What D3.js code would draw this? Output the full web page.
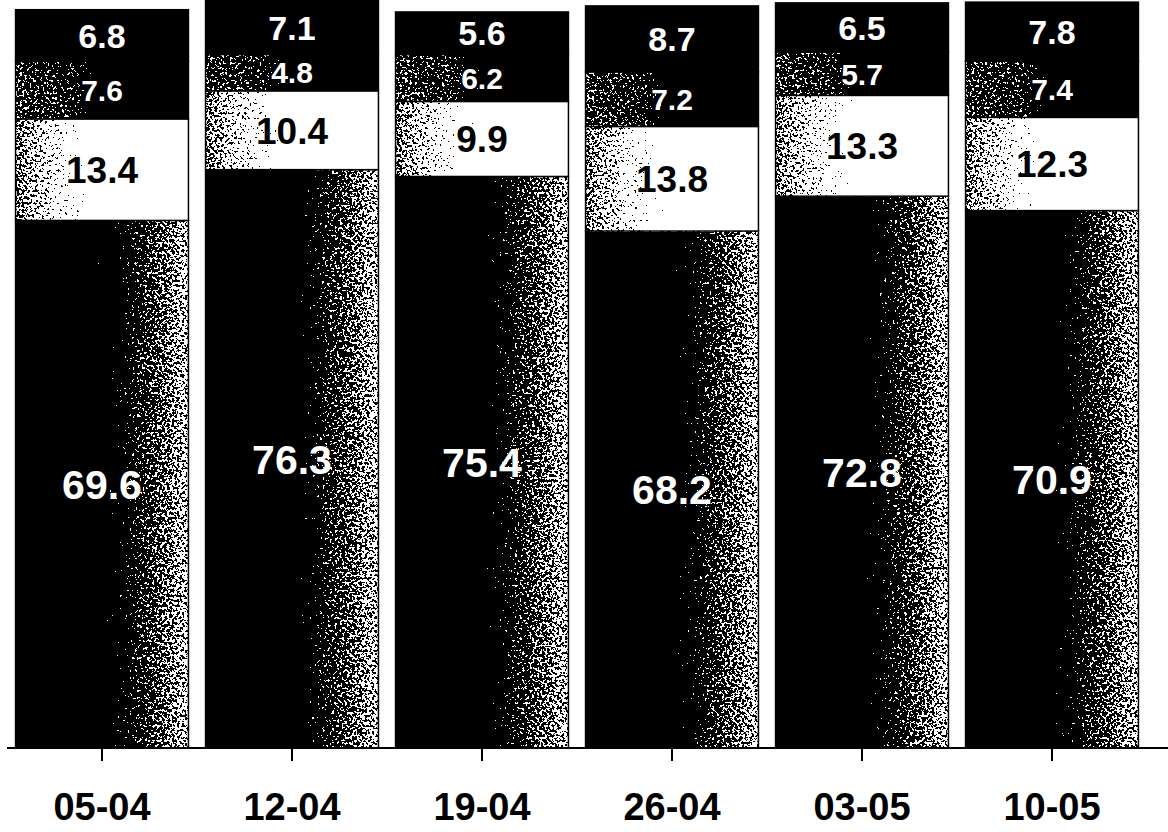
<!DOCTYPE html>
<html>
<head>
<meta charset="utf-8">
<script src="https://cdn.jsdelivr.net/npm/d3@7"></script>
<style>
  html, body { margin: 0; padding: 0; background: #fff; }
  svg { display: block; }
  text { font-family: "Liberation Sans", Arial, Helvetica, sans-serif; font-weight: bold; }
</style>
</head>
<body>
<svg id="chart" width="1168" height="832"></svg>
<script>
// ---- data ----
const categories = ["05-04", "12-04", "19-04", "26-04", "03-05", "10-05"];
const seriesBottom = [69.6, 76.3, 75.4, 68.2, 72.8, 70.9];
const seriesSecond = [13.4, 10.4, 9.9, 13.8, 13.3, 12.3];
const seriesThird  = [7.6, 4.8, 6.2, 7.2, 5.7, 7.4];
const seriesTop    = [6.8, 7.1, 5.6, 8.7, 6.5, 7.8];
const seriesKeys = ["bottom", "second", "third", "top"];

const table = categories.map((c, i) => ({
  cat: c,
  bottom: seriesBottom[i],
  second: seriesSecond[i],
  third: seriesThird[i],
  top: seriesTop[i]
}));

// ---- layout ----
const svg = d3.select("#chart");
const baseY = 748;
const x = d3.scaleBand().domain(categories).range([7, 1147]).paddingInner(0.09).paddingOuter(0.045);
const y = d3.scaleLinear().domain([0, 100]).range([baseY, -10]);

const stack = d3.stack().keys(seriesKeys);
const layers = stack(table);

// ---- defs: gradients + speckle filter ----
const defs = svg.append("defs");
function grad(id, stops) {
  const g = defs.append("linearGradient").attr("id", id)
    .attr("x1", "0").attr("x2", "1").attr("y1", "0").attr("y2", "0");
  stops.forEach(s => g.append("stop").attr("offset", s[0]).attr("stop-color", s[1]));
}
grad("g-bottom", [[0, "#000"], [0.36, "#000"], [0.72, "#5e5e5e"], [1, "#909090"]]);
grad("g-second", [[0, "#7a7a7a"], [0.35, "#bdbdbd"], [0.6, "#fff"], [1, "#fff"]]);
grad("g-third",  [[0, "#6a6a6a"], [0.35, "#5a5a5a"], [0.6, "#000"], [1, "#000"]]);
grad("g-top",    [[0, "#000"], [1, "#000"]]);

const f = defs.append("filter").attr("id", "speckle")
  .attr("x", "0").attr("y", "0").attr("width", "1").attr("height", "1")
  .attr("color-interpolation-filters", "sRGB");
f.append("feTurbulence").attr("type", "fractalNoise").attr("baseFrequency", "0.4")
  .attr("numOctaves", 2).attr("seed", 7).attr("result", "noise");
f.append("feColorMatrix").attr("in", "noise").attr("type", "matrix")
  .attr("values", "1 0 0 0 0  1 0 0 0 0  1 0 0 0 0  0 0 0 0 1").attr("result", "n");
f.append("feComposite").attr("in", "n").attr("in2", "SourceGraphic")
  .attr("operator", "arithmetic").attr("k1", 0).attr("k2", 0.5).attr("k3", 0.5).attr("k4", 0)
  .attr("result", "mix");
const ct = f.append("feComponentTransfer").attr("in", "mix");
["feFuncR", "feFuncG", "feFuncB"].forEach(fn =>
  ct.append(fn).attr("type", "discrete").attr("tableValues", "0 1"));
ct.append("feFuncA").attr("type", "discrete").attr("tableValues", "1 1");

const fills = { bottom: "url(#g-bottom)", second: "url(#g-second)", third: "url(#g-third)", top: "url(#g-top)" };
const textColor = { bottom: "#fff", second: "#000", third: "#fff", top: "#fff" };
const fontSize = { bottom: 41, second: 37, third: 30, top: 34 };

// ---- bars ----
const gLayers = svg.append("g").selectAll("g").data(layers).join("g");
gLayers.selectAll("rect.seg")
  .data(d => d.map(v => Object.assign(v, { key: d.key })))
  .join("rect")
  .attr("class", "seg")
  .attr("x", d => x(d.data.cat))
  .attr("width", x.bandwidth())
  .attr("y", d => y(d[1]))
  .attr("height", d => y(d[0]) - y(d[1]))
  .attr("fill", d => fills[d.key])
  .attr("filter", d => d.key === "top" ? null : "url(#speckle)");

// outlines
gLayers.selectAll("rect.outline")
  .data(d => d)
  .join("rect")
  .attr("class", "outline")
  .attr("x", d => x(d.data.cat))
  .attr("width", x.bandwidth())
  .attr("y", d => y(d[1]))
  .attr("height", d => y(d[0]) - y(d[1]))
  .attr("fill", "none")
  .attr("stroke", "#000")
  .attr("stroke-width", 1.5);

// value labels
gLayers.selectAll("text.val")
  .data(d => d)
  .join("text")
  .attr("class", "val")
  .attr("x", d => x(d.data.cat) + x.bandwidth() / 2)
  .attr("y", d => (y(d[0]) + y(d[1])) / 2)
  .attr("dy", "0.36em")
  .attr("text-anchor", "middle")
  .attr("fill", d => textColor[d.key])
  .attr("font-size", d => fontSize[d.key])
  .text(d => d.data[d.key].toFixed(1));

// ---- axis ----
const axis = d3.axisBottom(x).tickSize(13).tickPadding(32).tickSizeOuter(0);
const gAxis = svg.append("g").attr("transform", `translate(0,${baseY})`).call(axis);
gAxis.select(".domain").remove();
gAxis.selectAll(".tick line").attr("stroke", "#000").attr("stroke-width", 2);
gAxis.selectAll(".tick text")
  .attr("fill", "#000")
  .attr("font-size", 38)
  .attr("font-family", "'Liberation Sans', Arial, sans-serif")
  .attr("font-weight", "bold");
svg.append("line")
  .attr("x1", 7).attr("x2", 1168)
  .attr("y1", baseY).attr("y2", baseY)
  .attr("stroke", "#000").attr("stroke-width", 2);
</script>
</body>
</html>
